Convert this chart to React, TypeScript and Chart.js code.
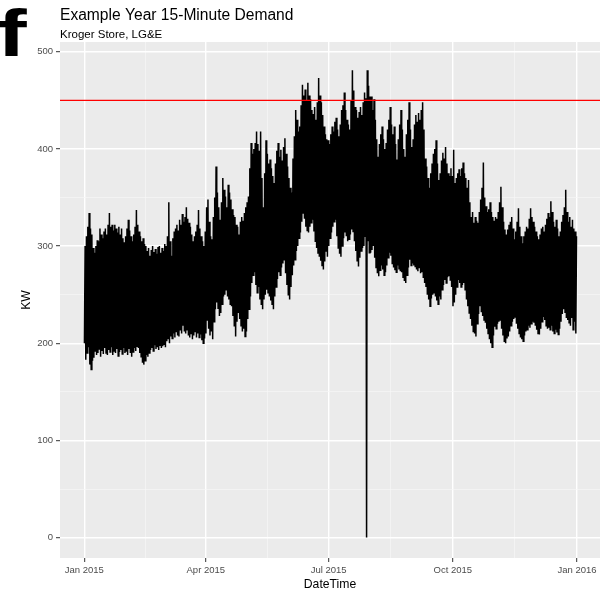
import React, { useEffect, useRef } from "react";
import { Chart, registerables } from "chart.js";

Chart.register(...registerables);

// Daily peak and minimum demand (KW), one value per day of 2015
const highJan = [300,310,320,334,318,312,298,293,300,306,305,318,312,308,315,318,312,322,334,320,322,316,322,318,314,320,312,318,308,304,310];
const lowJan = [200,183,190,196,178,173,182,185,192,188,190,194,186,192,189,195,190,188,193,191,196,188,192,190,194,187,191,193,189,195,190];
const highFeb = [318,327,316,310,305,312,320,337,322,315,310,305,308,302,300,295,298,290,296,300,294,297,292,299,300,293,298,295];
const lowFeb = [192,188,194,190,186,191,195,192,197,195,190,186,180,178,182,188,186,190,193,195,192,198,194,196,193,198,195,197];
const highMar = [302,300,310,345,305,290,308,315,318,322,316,327,322,333,325,330,340,328,324,320,312,305,310,315,322,337,318,310,305,300,315];
const lowMar = [199,196,202,205,200,207,205,210,206,212,208,207,214,210,218,212,210,214,208,206,210,204,208,212,206,210,206,209,203,200,205];
const highApr = [340,348,325,310,307,330,350,382,355,340,327,345,370,358,351,340,363,355,348,338,332,330,322,320,312,325,330,326,334,340];
const lowApr = [210,224,215,208,212,204,222,235,242,236,228,231,240,248,250,255,248,245,240,238,228,218,207,222,231,225,218,212,215,207];
const highMay = [345,351,380,406,395,400,406,418,405,398,418,370,340,375,409,395,385,389,380,372,365,385,398,406,392,399,388,402,411,395,382];
const lowMay = [212,225,235,248,262,270,273,260,252,258,245,240,235,245,250,255,252,248,244,240,235,248,258,266,273,270,278,282,286,272,260];
const highJun = [370,360,355,390,413,440,430,418,423,445,466,455,461,450,468,455,451,440,436,443,430,448,473,455,448,435,423,415,410,409];
const lowJun = [250,245,258,270,280,286,295,300,308,314,325,334,328,320,316,314,320,324,327,315,305,298,292,289,285,280,276,284,295,289];
const highJul = [405,415,423,418,428,432,420,413,425,440,445,458,440,430,425,420,450,481,460,443,440,432,438,443,435,448,458,452,481,465,454];
const lowJul = [300,308,314,320,325,327,310,298,292,289,300,308,314,310,305,307,312,317,315,305,295,285,279,288,295,298,300,310,0,305,293];
const highAug = [454,440,451,430,410,392,405,415,423,410,400,406,420,430,443,425,415,423,405,389,410,425,440,420,400,392,415,430,448,420,402];
const lowAug = [293,296,300,288,278,272,269,275,280,276,270,273,280,288,293,290,282,278,275,273,280,276,274,273,268,264,262,270,278,286,280];
const highSep = [410,425,435,428,437,430,440,448,420,390,382,370,360,375,385,395,400,409,385,368,375,388,396,390,402,385,375,372,380,372];
const lowSep = [282,280,279,276,274,278,272,273,268,262,258,250,245,238,246,250,252,248,244,240,248,245,255,260,265,262,268,269,265,258];
const highOct = [399,365,370,375,379,372,380,386,375,370,360,368,345,330,335,324,330,326,324,335,348,360,386,350,341,335,338,345,335,330,326];
const lowOct = [238,242,250,258,265,262,258,260,262,255,245,238,231,225,218,212,210,207,220,230,238,232,228,224,221,215,210,204,200,196,208];
const highNov = [330,328,335,345,361,340,325,317,312,317,322,325,330,318,307,315,325,339,320,310,303,310,315,320,318,328,339,330,325,320];
const lowNov = [217,215,220,222,224,215,208,202,200,205,207,212,218,222,225,227,220,215,210,206,204,202,208,212,214,218,216,220,222,221];
const highDec = [315,310,307,312,318,320,315,322,328,334,330,346,335,325,320,327,318,310,315,325,332,340,358,335,325,330,320,327,318,315,310];
const lowDec = [218,214,210,209,215,222,227,224,218,215,216,214,218,212,210,214,211,209,215,222,230,235,232,226,224,221,218,226,214,222,210];

// Axis ticks (x in days since 1 Jan 2015)
const xMajorDays = [0, 90, 181, 273, 365];
const xMajorLabels = ["Jan 2015", "Apr 2015", "Jul 2015", "Oct 2015", "Jan 2016"];
const xMinorDays = [45, 135.5, 227, 319];
const yMajor = [0, 100, 200, 300, 400, 500];
const yMinor = [50, 150, 250, 350, 450];
const thresholdKW = 450;

const titleText = "Example Year 15-Minute Demand";
const subtitleText = "Kroger Store, LG&E";
const xTitle = "DateTime";
const yTitle = "KW";

const FONT = "'Liberation Sans', Arial, sans-serif";

const dailyHigh = [
  ...highJan, ...highFeb, ...highMar, ...highApr, ...highMay, ...highJun,
  ...highJul, ...highAug, ...highSep, ...highOct, ...highNov, ...highDec,
];
const dailyLow = [
  ...lowJan, ...lowFeb, ...lowMar, ...lowApr, ...lowMay, ...lowJun,
  ...lowJul, ...lowAug, ...lowSep, ...lowOct, ...lowNov, ...lowDec,
];

const ggPlugin = {
  id: "ggstyle",
  beforeDraw(chart: any) {
    const { ctx, chartArea: a } = chart;
    ctx.save();
    ctx.fillStyle = "#EBEBEB";
    ctx.fillRect(a.left, a.top, a.right - a.left, a.bottom - a.top);
    ctx.restore();
  },
  afterDatasetsDraw(chart: any) {
    const { ctx, chartArea: a } = chart;
    const y = chart.scales.y.getPixelForValue(thresholdKW);
    ctx.save();
    ctx.strokeStyle = "#FF0000";
    ctx.lineWidth = 1.2;
    ctx.beginPath();
    ctx.moveTo(a.left, y);
    ctx.lineTo(a.right, y);
    ctx.stroke();
    ctx.restore();
  },
  afterDraw(chart: any) {
    const { ctx, chartArea: a } = chart;
    ctx.save();
    ctx.fillStyle = "#000000";
    ctx.textAlign = "left";
    ctx.textBaseline = "alphabetic";
    ctx.font = `15.6px ${FONT}`;
    ctx.fillText(titleText, a.left, a.top - 22);
    ctx.font = `11.5px ${FONT}`;
    ctx.fillText(subtitleText, a.left, a.top - 4);
    ctx.font = `12.2px ${FONT}`;
    ctx.textAlign = "center";
    ctx.textBaseline = "middle";
    ctx.fillText(xTitle, (a.left + a.right) / 2, a.bottom + 27);
    ctx.translate(a.left - 33, (a.top + a.bottom) / 2);
    ctx.rotate(-Math.PI / 2);
    ctx.fillText(yTitle, 0, 0);
    ctx.restore();
  },
};

export default function App() {
  const ref = useRef<HTMLCanvasElement | null>(null);

  useEffect(() => {
    if (!ref.current) return;
    const points: { x: number; y: number }[] = [];
    dailyLow.forEach((lo, d) => {
      points.push({ x: d + 0.1, y: lo });
      points.push({ x: d + 0.6, y: dailyHigh[d] });
    });

    const isYMinor = (v: number) => yMinor.includes(v);
    const isXMinor = (v: number) => xMinorDays.includes(v);

    const chart = new Chart(ref.current, {
      type: "line",
      data: {
        datasets: [
          {
            data: points,
            borderColor: "#000000",
            borderWidth: 1.5,
            pointRadius: 0,
            fill: false,
            tension: 0,
          },
        ],
      },
      options: {
        animation: false,
        responsive: false,
        events: [],
        parsing: false,
        normalized: true,
        layout: { padding: { left: 0, top: 42, right: 10, bottom: 0 } },
        plugins: {
          legend: { display: false },
          tooltip: { enabled: false },
          title: { display: false },
        },
        scales: {
          x: {
            type: "linear",
            min: -18,
            max: 382,
            afterBuildTicks: (scale: any) => {
              scale.ticks = [...xMajorDays, ...xMinorDays]
                .sort((p, q) => p - q)
                .map((v) => ({ value: v }));
            },
            afterFit: (scale: any) => {
              scale.height = 35;
            },
            border: { display: false },
            grid: {
              color: (c: any) => (isXMinor(c.tick?.value) ? "#F6F6F6" : "#FFFFFF"),
              lineWidth: (c: any) => (isXMinor(c.tick?.value) ? 0.7 : 1.4),
              tickColor: (c: any) => (isXMinor(c.tick?.value) ? "rgba(0,0,0,0)" : "#333333"),
              tickWidth: 1,
              tickLength: 4,
            },
            ticks: {
              autoSkip: false,
              maxRotation: 0,
              minRotation: 0,
              padding: 3,
              color: "#4D4D4D",
              font: { family: FONT, size: 9.5 },
              callback: (v: any) => {
                const i = xMajorDays.indexOf(Number(v));
                return i >= 0 ? xMajorLabels[i] : "";
              },
            },
          },
          y: {
            type: "linear",
            min: -21,
            max: 510,
            afterBuildTicks: (scale: any) => {
              scale.ticks = [...yMajor, ...yMinor]
                .sort((p, q) => p - q)
                .map((v) => ({ value: v }));
            },
            afterFit: (scale: any) => {
              scale.width = 60;
            },
            border: { display: false },
            grid: {
              color: (c: any) => (isYMinor(c.tick?.value) ? "#F6F6F6" : "#FFFFFF"),
              lineWidth: (c: any) => (isYMinor(c.tick?.value) ? 0.7 : 1.4),
              tickColor: (c: any) => (isYMinor(c.tick?.value) ? "rgba(0,0,0,0)" : "#333333"),
              tickWidth: 1,
              tickLength: 4,
            },
            ticks: {
              autoSkip: false,
              padding: 3,
              color: "#4D4D4D",
              font: { family: FONT, size: 9.5 },
              callback: (v: any) => (yMajor.includes(Number(v)) ? String(v) : ""),
            },
          },
        },
      },
      plugins: [ggPlugin],
    });
    return () => chart.destroy();
  }, []);

  return (
    <div
      style={{
        position: "fixed",
        left: 0,
        top: 0,
        width: 610,
        height: 593,
        background: "#FFFFFF",
        overflow: "hidden",
      }}
    >
      <span
        style={{
          position: "absolute",
          left: -3,
          top: 1,
          fontFamily: FONT,
          fontWeight: "bold",
          fontSize: 66,
          lineHeight: "64px",
          color: "#000000",
          transform: "scaleX(1.35)",
          transformOrigin: "left top",
        }}
      >
        f
      </span>
      <canvas
        ref={ref}
        width={610}
        height={593}
        style={{ position: "absolute", left: 0, top: 0, width: 610, height: 593 }}
      />
    </div>
  );
}
